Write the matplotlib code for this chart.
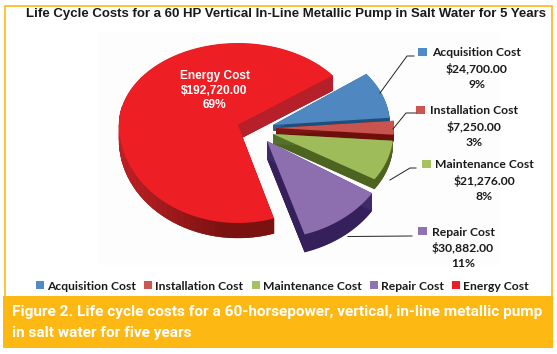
import numpy as np
import matplotlib
matplotlib.use("Agg")
import matplotlib.pyplot as plt
from matplotlib.colors import to_rgb
from matplotlib.patches import Polygon, Rectangle

# values from the chart
categories = ["Acquisition Cost", "Installation Cost", "Maintenance Cost", "Repair Cost", "Energy Cost"]
costs = [24700, 7250, 21276, 30882, 192720]
cost_labels = ["$24,700.00", "$7,250.00", "$21,276.00", "$30,882.00", "$192,720.00"]
pct_labels = ["9%", "3%", "8%", "11%", "69%"]

title = "Life Cycle Costs for a 60 HP Vertical In-Line Metallic Pump in Salt Water for 5 Years"
caption = ["Figure 2. Life cycle costs for a 60-horsepower, vertical, in-line metallic pump",
           "in salt water for five years"]

top_colors = ["#4f87c0", "#c9544f", "#9fbc5a", "#8d6fb0", "#ed1f24"]
rim_colors = ["#1d4f7d", "#6e0f0c", "#4d6420", "#35205c", "#7a1210"]
cut_colors = ["#2a5f92", "#7a1512", "#55702a", "#3d2a6b", "#b5202a"]
key_colors = ["#4f8cc6", "#cb5650", "#a6c160", "#8f72b2", "#ee1c25"]

START_ANGLE = 37

# slice geometry in pixels, the slices are pulled out of the pie
apex = [(273, 125), (276, 128), (273, 134), (267, 141), (238, 125)]
depths = [6, 7, 10, 18, 15]
rx_list = [117, 118, 120, 124, 119]
ry_up = [85, 85, 85, 85, 82]
ry_down = [85, 85, 85, 98, 98]

fig = plt.figure(figsize=(5.57, 3.54), dpi=100)
ax = fig.add_axes([0, 0, 1, 1])
ax.set_xlim(0, 557)
ax.set_ylim(354, 0)
ax.axis("off")

# frame and caption band
ax.add_patch(Rectangle((4.5, 5.5), 547, 300, fc="white", ec="#fdb813", lw=1.2))
ax.add_patch(Rectangle((98, 32), 402, 233, fc="#fdfdfd", ec="none"))
ax.add_patch(Rectangle((3, 296), 550, 52, fc="#fdb813", ec="none"))


def arc_points(i, a0, a1):
    cx, cy = apex[i]
    t = np.radians(np.linspace(a0, a1, 80))
    ry = np.where(np.sin(t) > 0, ry_up[i], ry_down[i])
    return np.column_stack([cx + rx_list[i] * np.cos(t), cy - ry * np.sin(t)])


def draw_slice(i, a0, a1, rim_shade=False):
    cx, cy = apex[i]
    depth = depths[i]
    arc = arc_points(i, a0, a1)
    shape = np.vstack([[cx, cy], arc])
    # extruded body, stepped from the bottom up
    for d in np.arange(depth, 0, -0.5):
        ax.add_patch(Polygon(shape + [0, d], closed=True, fc=rim_colors[i], ec="none"))
    # the cut face of the upper edge
    ax.add_patch(Polygon([[cx, cy], arc[-1], arc[-1] + [0, depth], [cx, cy + depth]],
                         closed=True, fc=cut_colors[i], ec="none"))
    if rim_shade:
        # left of the energy slice is lighter than the bottom
        for j in range(len(arc) - 1):
            k = min(1, (arc[j][0] - (cx - rx_list[i])) / rx_list[i] * 1.1)
            c = np.array(to_rgb("#c22026")) * (1 - k) + np.array(to_rgb(rim_colors[i])) * k
            if arc[j][1] > cy - 15:
                ax.add_patch(Polygon([arc[j], arc[j + 1], arc[j + 1] + [0, depth], arc[j] + [0, depth]],
                                     closed=True, fc=c, ec=c, lw=0.3))
    ax.add_patch(Polygon(shape, closed=True, fc=top_colors[i], ec="none"))


angles = np.array(costs) / sum(costs) * 360
edges = START_ANGLE - np.concatenate([[0], np.cumsum(angles)])

# energy goes first, it sits behind the others
draw_slice(4, edges[4], edges[5], rim_shade=True)
for i in range(4):
    draw_slice(i, edges[i + 1], edges[i])

# leader lines
leaders = [[(380, 93), (407, 56), (414, 56)],
           [(393, 129), (406, 113), (416, 113)],
           [(390, 180), (410, 168), (416, 168)],
           [(348, 236.5), (412, 236)]]
for pts in leaders:
    xs, ys = zip(*pts)
    ax.plot(xs, ys, color="#222222", lw=0.7)

LABEL_FONT = ["Lato", "Open Sans", "DejaVu Sans"]
label_x = [477, 474, 484, 463]
label_y = [53, 111, 165, 232]
key_pos = [(418, 48), (416, 106), (422, 160), (418, 227)]
for i in range(4):
    for j, s in enumerate([categories[i], cost_labels[i], pct_labels[i]]):
        ax.text(label_x[i], label_y[i] + j * 15.8, s, ha="center", va="center", fontsize=8.7,
                family=LABEL_FONT, weight="bold", color="#1a1a1a")
    ax.add_patch(Rectangle(key_pos[i], 8.5, 8, fc=key_colors[i], ec="none"))

for j, s in enumerate([categories[4], cost_labels[4], pct_labels[4]]):
    ax.text(214.5, 76 + j * 14.5, s, ha="center", va="center", fontsize=8.6, color="white",
            family="Liberation Sans", weight="bold")

# legend row
legend_x = [36, 144, 252, 370, 452]
for x, name, c in zip(legend_x, categories, key_colors):
    ax.add_patch(Rectangle((x, 281), 8, 8, fc=c, ec="none"))
    ax.text(x + 11, 286, name, ha="left", va="center", fontsize=8.7, family=LABEL_FONT,
            weight="bold", color="#1a1a1a")

ax.text(26, 14.5, title, ha="left", va="center", fontsize=9.5, family="Liberation Sans",
        weight="bold", color="#1a1a1a")

CAPTION_FONT = ["Roboto", "DejaVu Sans"]
ax.text(12, 312, caption[0], ha="left", va="center", fontsize=11.1, family=CAPTION_FONT,
        weight="bold", color="white")
ax.text(12, 332.5, caption[1], ha="left", va="center", fontsize=11.1, family=CAPTION_FONT,
        weight="bold", color="white")

fig.savefig("out.png", dpi=100)
